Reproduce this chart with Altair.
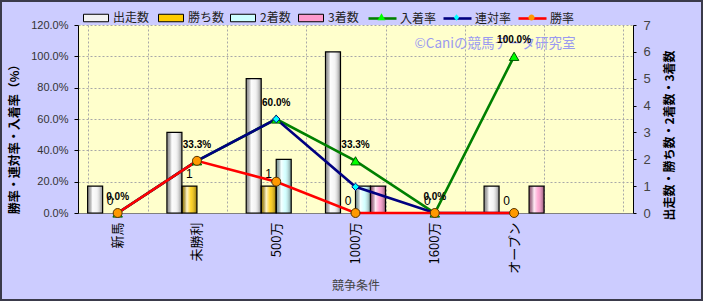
import altair as alt
import pandas as pd

# ---------------- data ----------------
categories = ["新馬", "未勝利", "500万", "1000万", "1600万", "オープン", " "]
race_cats = ["新馬", "未勝利", "500万", "1000万", "1600万", "オープン"]

starts = [1, 3, 5, 6, 0, 1]      # 出走数
wins = [0, 1, 1, 0, 0, 0]        # 勝ち数
seconds = [0, 0, 2, 1, 0, 0]     # 2着数
thirds = [0, 0, 0, 1, 0, 1]      # 3着数

place_rate = [0.0, 33.3, 60.0, 33.3, 0.0, 100.0]   # 入着率 (%)
rentai_rate = [0.0, 33.3, 60.0, 16.7, 0.0, 0.0]    # 連対率 (%)
win_rate = [0.0, 33.3, 20.0, 0.0, 0.0, 0.0]        # 勝率 (%)

bar_series = ["出走数", "勝ち数", "2着数", "3着数"]
bar_colors = ["#F2F2F2", "#FFCC00", "#CCFFFF", "#FF99CC"]
bar_legend_x = [5, 80, 152, 220]

line_series = ["入着率", "連対率", "勝率"]
line_colors = ["#008000", "#000080", "#FF0000"]
marker_fills = ["#00FF00", "#00FFFF", "#FF9900"]
marker_strokes = ["#005500", "#000080", "#553300"]
marker_shapes = ["triangle-up", "diamond", "circle"]
marker_sizes = [90, 55, 80]
line_legend_x = [289, 364, 439]

legend_marker_paths = [
    "M0,-0.3L0.28,0.2L-0.28,0.2Z",
    "M0,-0.24L0.19,0L0,0.24L-0.19,0Z",
    "M-0.22,0A0.22,0.22,0,1,0,0.22,0A0.22,0.22,0,1,0,-0.22,0Z",
]

watermark = "©Caniの競馬データ研究室"

bars_df = pd.DataFrame(
    [{"cat": c, "series": s, "value": v}
     for s, vals in zip(bar_series, [starts, wins, seconds, thirds])
     for c, v in zip(race_cats, vals)]
)
rates_df = pd.DataFrame(
    [{"cat": c, "series": s, "value": v / 100.0}
     for s, vals in zip(line_series, [place_rate, rentai_rate, win_rate])
     for c, v in zip(race_cats, vals)]
)

CJK = "Noto Sans CJK JP"
W, H = 555, 188

# ---------------- scales / axes ----------------
xscale = alt.Scale(domain=categories, paddingInner=0.243, paddingOuter=0.1215)
x_axis = alt.Axis(
    labelAngle=270, labelFont=CJK, labelFontSize=13, labelColor="#000",
    labelPadding=9, ticks=False, domainColor="#808080",
    grid=True, tickBand="extent", gridColor="#A8A8A8", gridDash=[2, 2], gridWidth=1,
    title="競争条件", titleFont=CJK, titleFontSize=12, titleFontWeight="normal",
    titleColor="#444", titleY=72, titleBaseline="middle",
)


def X(**kw):
    return alt.X("cat:N", scale=xscale, axis=x_axis, **kw)


right_axis = alt.Axis(
    orient="right", values=[0, 1, 2, 3, 4, 5, 6, 7], grid=False,
    domainColor="#000", tickColor="#000", tickSize=3, labelPadding=7,
    labelFont="Liberation Sans", labelFontSize=13, labelColor="#444",
    title="出走数・勝ち数・2着数・3着数", titleFont=CJK, titleFontSize=12,
    titleFontWeight="bold", titleColor="#000", titleAngle=270,
    titleX=36, titleY=110, titleAlign="center", titleBaseline="middle",
)
left_axis = alt.Axis(
    values=[0, 0.2, 0.4, 0.6, 0.8, 1.0, 1.2], format=".1%",
    grid=True, gridColor="#A8A8A8", gridDash=[2, 2], gridWidth=1,
    domainColor="#000", tickColor="#000", tickSize=4, labelPadding=6,
    labelFont="Liberation Sans", labelFontSize=11, labelColor="#333",
    title="勝率・連対率・入着率（%）", titleFont=CJK, titleFontSize=12,
    titleFontWeight="bold", titleColor="#000", titleAngle=270,
    titleX=-64, titleY=111, titleAlign="center", titleBaseline="middle",
)

y_right = alt.Y("value:Q", scale=alt.Scale(domain=[0, 7]), stack=None, axis=right_axis)
y_left = alt.Y("value:Q", scale=alt.Scale(domain=[0, 1.2]), axis=left_axis)
xoff = alt.XOffset("series:N", scale=alt.Scale(domain=bar_series, paddingInner=0, paddingOuter=0))

# ---------------- bar group (right axis) ----------------
bar_layers = []
for j, (s, col) in enumerate(zip(bar_series, bar_colors)):
    leg = alt.Legend(
        orient="none", legendX=bar_legend_x[j], legendY=-20, direction="horizontal", title=None,
        symbolType="M-1,-0.3H1V0.3H-1Z", symbolSize=625, symbolStrokeColor="#000",
        symbolStrokeWidth=1, labelFont=CJK, labelFontSize=12, labelColor="#222",
        labelOffset=4, padding=0,
    )
    bar_layers.append(
        alt.Chart(bars_df)
        .transform_filter(alt.datum.series == s)
        .transform_filter("datum.value > 0")
        .mark_bar(strokeWidth=0, opacity=1)
        .encode(
            x=X(), xOffset=xoff, y=y_right,
            fill=alt.Fill("series:N", scale=alt.Scale(domain=[s], range=[col]), legend=leg),
        )
    )

gloss_fill = alt.LinearGradient(
    gradient="linear", x1=0, y1=0, x2=1, y2=0,
    stops=[
        alt.GradientStop(offset=0, color="rgba(0,0,0,0.38)"),
        alt.GradientStop(offset=0.33, color="rgba(255,255,255,0.8)"),
        alt.GradientStop(offset=0.6, color="rgba(255,255,255,0.15)"),
        alt.GradientStop(offset=1, color="rgba(0,0,0,0.45)"),
    ],
)
gloss = alt.Chart(bars_df).transform_filter("datum.value > 0").mark_bar(
    fill=gloss_fill, stroke="#000", strokeWidth=1.2, opacity=1
).encode(x=X(), xOffset=xoff, y=y_right)

win_labels = alt.Chart(bars_df).transform_filter(alt.datum.series == "勝ち数").mark_text(
    dy=-8, baseline="alphabetic", font="Liberation Sans", fontSize=12, color="#000"
).encode(x=X(), xOffset=xoff, y=y_right, text="value:Q")

bar_group = alt.layer(*bar_layers, gloss, win_labels).resolve_scale(fill="independent")

# ---------------- line group (left axis) ----------------
line_layers = []
point_layers = []
legend_layers = []
for i, (s, lc, mf, ms, shp, sz) in enumerate(
    zip(line_series, line_colors, marker_fills, marker_strokes, marker_shapes, marker_sizes)
):
    sub = alt.Chart(rates_df).transform_filter(alt.datum.series == s)
    line_layers.append(sub.mark_line(color=lc, strokeWidth=2.6).encode(x=X(), y=y_left))
    point_layers.append(
        sub.mark_point(shape=shp, filled=True, fill=mf, stroke=ms, strokeWidth=1, size=sz, opacity=1)
        .encode(x=X(), y=y_left)
    )
    # legend entry: line part (with label)
    stroke_leg = alt.Legend(
        orient="none", legendX=line_legend_x[i], legendY=-22, direction="horizontal", title=None,
        symbolType="stroke", symbolSize=784, symbolStrokeWidth=2.6,
        labelFont=CJK, labelFontSize=12, labelColor="#222", labelOffset=2, padding=0,
    )
    legend_layers.append(
        sub.transform_filter("false").mark_line(strokeWidth=2.6, opacity=1).encode(
            x=X(), y=y_left,
            stroke=alt.Stroke("series:N", scale=alt.Scale(domain=[s], range=[lc]), legend=stroke_leg),
        )
    )
    # legend entry: marker part (label hidden)
    marker_leg = alt.Legend(
        orient="none", legendX=line_legend_x[i], legendY=-22, direction="horizontal", title=None,
        symbolSize=784, symbolStrokeWidth=1, symbolFillColor=mf, symbolStrokeColor=ms,
        labelFont=CJK, labelFontSize=12, labelOpacity=0, labelOffset=2, padding=0,
    )
    legend_layers.append(
        sub.transform_filter("false")
        .mark_point(filled=True, fill=mf, stroke=ms, strokeWidth=1, opacity=1)
        .encode(
            x=X(), y=y_left,
            shape=alt.Shape("series:N", scale=alt.Scale(domain=[s], range=[legend_marker_paths[i]]), legend=marker_leg),
        )
    )

rate_labels = alt.Chart(rates_df).transform_filter(alt.datum.series == "入着率").mark_text(
    dy=-13, baseline="alphabetic", font="Liberation Sans", fontSize=10, fontWeight="bold", color="#000"
).encode(x=X(), y=y_left, text=alt.Text("value:Q", format=".1%"))

wm = alt.Chart(pd.DataFrame({"t": [watermark]})).mark_text(
    font=CJK, fontSize=13.5, color="#9A9AF0", align="center", baseline="middle"
).encode(x=alt.value(417), y=alt.value(19), text="t:N")

border = alt.Chart(pd.DataFrame({"b": [0]})).mark_rect(
    fillOpacity=0, stroke="#3a3a4a", strokeWidth=2
).encode(x=alt.value(-77), x2=alt.value(W + 69), y=alt.value(-24), y2=alt.value(H + 87))

line_group = alt.layer(
    wm, *line_layers, *point_layers, rate_labels, *legend_layers, border
).resolve_scale(shape="independent", stroke="independent")

chart = (
    alt.layer(bar_group, line_group)
    .resolve_scale(y="independent", fill="independent")
    .properties(
        width=W, height=H,
        padding={"left": 78, "top": 25, "right": 70, "bottom": 88},
        autosize=alt.AutoSizeParams(type="none"),
        background="#CCCCFF",
    )
    .configure_view(fill="#FFFFCC", stroke=None)
)

chart.save("out.html", embed_options={"renderer": "svg", "actions": False})
